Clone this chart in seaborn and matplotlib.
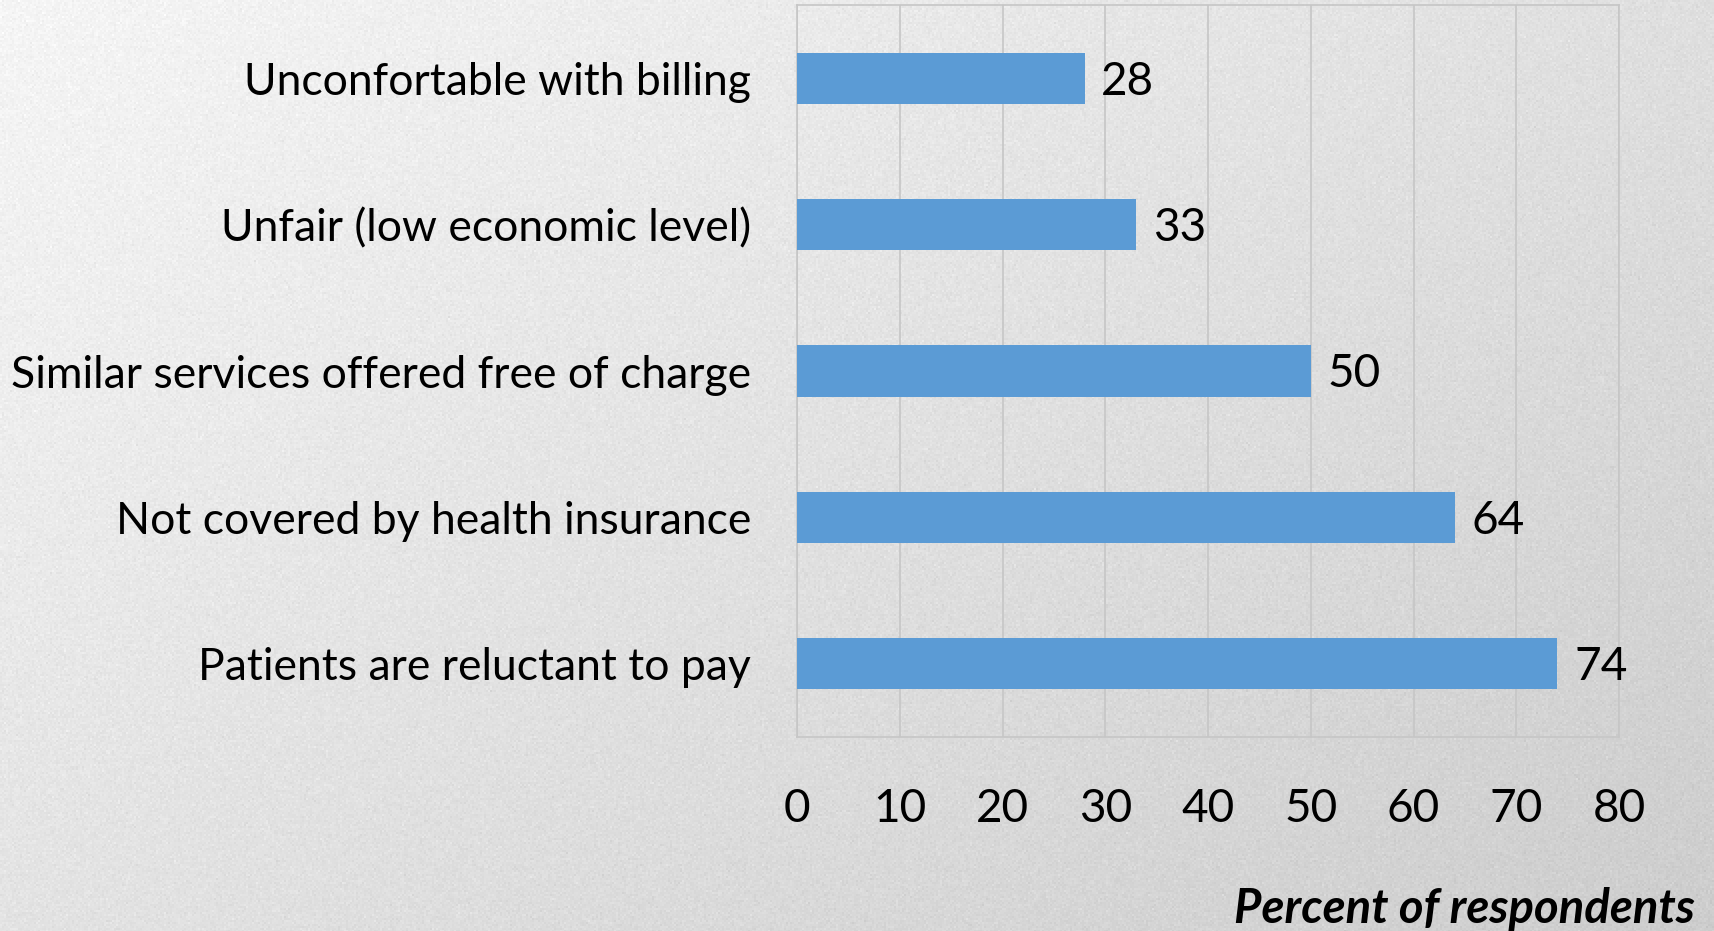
import numpy as np
import pandas as pd
import matplotlib
matplotlib.use("Agg")
import matplotlib.pyplot as plt
import seaborn as sns

# Survey responses: reasons given against billing
reasons = [
    "Unconfortable with billing",
    "Unfair (low economic level)",
    "Similar services offered free of charge",
    "Not covered by health insurance",
    "Patients are reluctant to pay",
]
percent = [28, 33, 50, 64, 74]
x_ticks = [0, 10, 20, 30, 40, 50, 60, 70, 80]
x_title = "Percent of respondents"

sns.set_theme(style="white")
plt.rcParams["font.family"] = ["Lato", "DejaVu Sans"]

W, H = 1714, 931
fig = plt.figure(figsize=(W / 100, H / 100), dpi=100)

# Light-to-grey diagonal backdrop with a faint paper grain
bg = fig.add_axes([0, 0, 1, 1], zorder=-10)
yy, xx = np.mgrid[0:H, 0:W]
grad = 0.96 - 0.16 * (0.55 * xx / W + 0.45 * yy / H)
rng = np.random.default_rng(3)
grain = rng.normal(0, 0.012, size=(H // 2 + 1, W // 2 + 1))
grain = np.kron(grain, np.ones((2, 2)))[:H, :W]
img = np.clip(grad + grain, 0, 1)
bg.imshow(img, cmap="gray", vmin=0, vmax=1, aspect="auto", interpolation="bilinear")
bg.set_axis_off()

ax = fig.add_axes([797 / W, 1 - 737 / H, (1619 - 797) / W, (737 - 5) / H])
ax.patch.set_alpha(0)

df = pd.DataFrame({"reason": reasons, "percent": percent})
sns.barplot(data=df, y="reason", x="percent", orient="h", color="#5b9bd5",
            width=0.35, saturation=1, linewidth=0, ax=ax, zorder=3)

ax.set_xlim(0, 80)
ax.set_xticks(x_ticks)
ax.xaxis.grid(True, color="#c6c6c6", linewidth=1.2, zorder=0)
ax.set_axisbelow(True)
for s in ax.spines.values():
    s.set_visible(True)
    s.set_color("#c6c6c6")
    s.set_linewidth(1.2)

ax.tick_params(axis="x", length=0, pad=37, labelsize=33, labelcolor="black")
ax.tick_params(axis="y", length=0, pad=33, labelsize=32, labelcolor="black")
ax.set_xlabel("")
ax.set_ylabel("")

for i, v in enumerate(percent):
    ax.annotate(str(v), xy=(v, i), xytext=(12, -2.5), textcoords="offset points",
                ha="left", va="center", fontsize=33, color="black")

fig.text(1695 / W, 1 - 923 / H, x_title, ha="right", va="baseline",
         fontsize=34, fontweight="bold", fontstyle="italic", color="black")

fig.savefig("out.png", dpi=100)
